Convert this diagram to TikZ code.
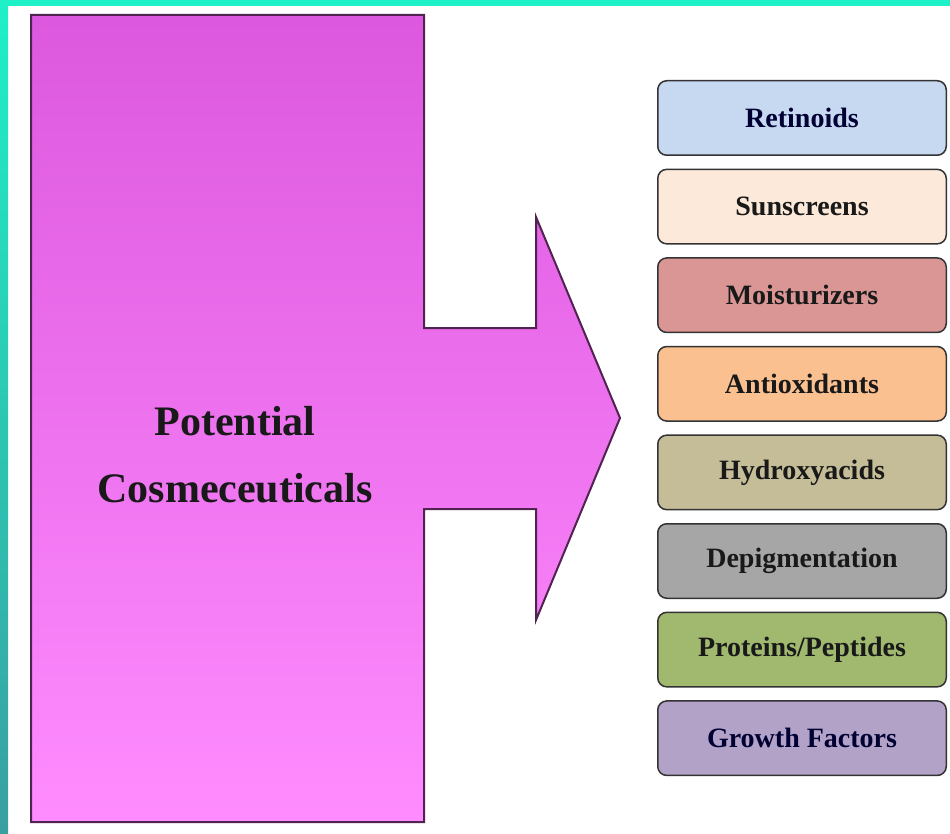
\documentclass[tikz,border=0pt]{standalone}
\usepackage{fontspec}
\setmainfont{Liberation Serif}
\usetikzlibrary{positioning}
\definecolor{framelight}{RGB}{30,240,200}
\definecolor{framedark}{RGB}{58,159,159}
\definecolor{shapetop}{RGB}{220,88,222}
\definecolor{shapebottom}{RGB}{255,140,255}
\definecolor{shapeline}{RGB}{80,35,80}
\definecolor{retcolor}{RGB}{198,217,241}
\definecolor{suncolor}{RGB}{253,233,217}
\definecolor{moistcolor}{RGB}{217,150,148}
\definecolor{antioxcolor}{RGB}{250,192,144}
\definecolor{hydroxcolor}{RGB}{196,189,151}
\definecolor{depigcolor}{RGB}{166,166,166}
\definecolor{protcolor}{RGB}{160,185,110}
\definecolor{growthcolor}{RGB}{179,162,199}

\begin{document}
\begin{tikzpicture}[
    x=1pt, y=-1pt,
    item/.style={draw=black!80, line width=1.5pt, rounded corners=9pt, minimum width=288.5pt, minimum height=74.5pt, font=\fontsize{28}{30}\selectfont\bfseries, text=black!90},
    node distance=12.6pt,
]
    % Frame
    \useasboundingbox[fill=white] (0,0) rectangle (950,834);
    \fill[framelight] (0,0) rectangle (950,6);
    \shade[top color=framelight, bottom color=framedark] (0,0) rectangle (8,834);
    % Big arrow
    \draw[shapeline, line width=2pt, top color=shapetop, bottom color=shapebottom]
        (31,15) -- (424,15) -- (424,328) -- (536,328) -- (536,217) -- (620,418)
        -- (536,620) -- (536,509) -- (424,509) -- (424,822) -- (31,822) -- cycle;
    \node[font=\fontsize{42}{67}\selectfont\bfseries, align=center, text=black!90] (title) at (235,455) {Potential\\Cosmeceuticals};
    % Categories
    \node[item, fill=retcolor, text=black!80!blue] (retinoids) at (802,118) {Retinoids};
    \node[item, fill=suncolor, below=of retinoids] (sunscreens) {Sunscreens};
    \node[item, fill=moistcolor, below=of sunscreens] (moist) {Moisturizers};
    \node[item, fill=antioxcolor, below=of moist] (antiox) {Antioxidants};
    \node[item, fill=hydroxcolor, below=of antiox] (hydrox) {Hydroxyacids};
    \node[item, fill=depigcolor, below=of hydrox] (depig) {Depigmentation};
    \node[item, fill=protcolor, below=of depig] (proteins) {Proteins/Peptides};
    \node[item, fill=growthcolor, text=black!80!blue, below=of proteins] (growth) {Growth Factors};
\end{tikzpicture}
\end{document}
